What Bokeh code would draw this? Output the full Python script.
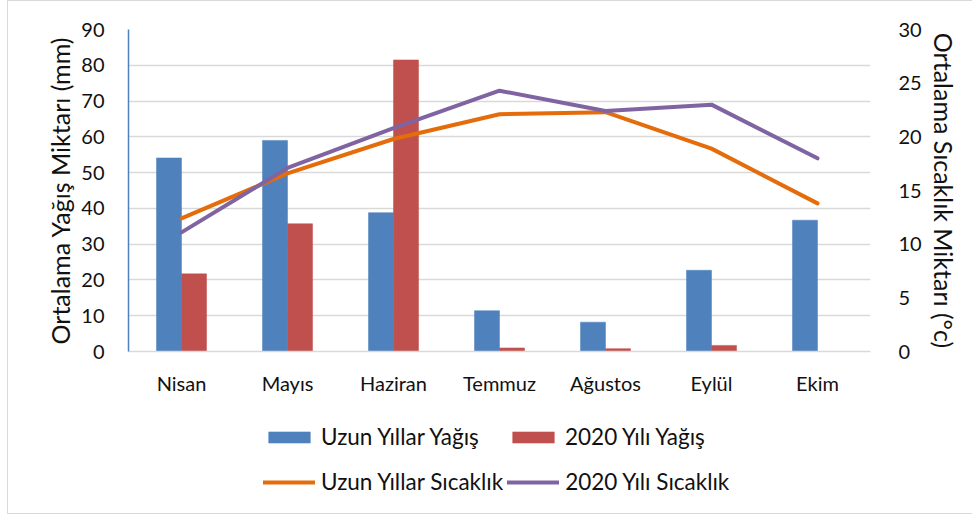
import math
from bokeh.plotting import figure
from bokeh.layouts import column
from bokeh.models import (ColumnDataSource, FactorRange, Range1d, LinearAxis,
                          SingleIntervalTicker, Legend, LegendItem)
from bokeh.transform import dodge
from bokeh.embed import file_html
from bokeh.resources import INLINE

months = ["Nisan", "Mayıs", "Haziran", "Temmuz", "Ağustos", "Eylül", "Ekim"]
rain_long = [54.1, 59.0, 38.8, 11.4, 8.2, 22.7, 36.7]
rain_2020 = [21.7, 35.7, 81.5, 1.0, 0.8, 1.7, math.nan]
temp_long = [12.4, 16.6, 19.8, 22.1, 22.3, 18.9, 13.8]
temp_2020 = [11.1, 17.1, 20.8, 24.3, 22.4, 23.0, 18.0]
series_names = ["Uzun Yıllar Yağış", "2020 Yılı Yağış",
                "Uzun Yıllar Sıcaklık", "2020 Yılı Sıcaklık"]
colors = ["#4F81BD", "#C0504D", "#E46C0A", "#8064A2"]

FONT = "Lato"
TXT = "#111111"

src = ColumnDataSource(dict(month=months, rl=rain_long, r20=rain_2020,
                            tl=temp_long, t20=temp_2020))

p = figure(x_range=FactorRange(*months, range_padding=0), y_range=Range1d(0, 90),
           frame_width=742, frame_height=322,
           min_border_left=120, min_border_right=102,
           min_border_top=28, min_border_bottom=50,
           output_backend="svg", toolbar_location=None)
p.extra_y_ranges = {"temp": Range1d(0, 30)}
p.outline_line_color = None
p.background_fill_color = "white"
p.border_fill_color = "white"

bw = 0.236


def draw_series(fig, x_range, y_name=None):
    rs = []
    rs.append(fig.vbar(x=dodge("month", -bw / 2, range=x_range), top="rl", width=bw,
                       source=src, fill_color=colors[0], line_color=colors[0],
                       line_width=0.5))
    rs.append(fig.vbar(x=dodge("month", bw / 2, range=x_range), top="r20", width=bw,
                       source=src, fill_color=colors[1], line_color=colors[1],
                       line_width=0.5))
    kw = {} if y_name is None else {"y_range_name": y_name}
    rs.append(fig.line(x="month", y="tl", source=src, line_color=colors[2],
                       line_width=4, line_cap="round", line_join="round", **kw))
    rs.append(fig.line(x="month", y="t20", source=src, line_color=colors[3],
                       line_width=4, line_cap="round", line_join="round", **kw))
    return rs


draw_series(p, p.x_range, "temp")

# grid
p.xgrid.grid_line_color = None
p.ygrid.grid_line_color = "#D9D9D9"
p.ygrid.grid_line_width = 1.5
p.ygrid.ticker = SingleIntervalTicker(interval=10)

# left axis
ya = p.yaxis[0]
ya.ticker = SingleIntervalTicker(interval=10)
ya.axis_label = "Ortalama Yağış Miktarı (mm)"
ya.axis_line_color = "#4F81BD"
ya.axis_line_width = 1.5
ya.major_tick_line_color = None
ya.minor_tick_line_color = None
ya.major_label_standoff = 18
ya.axis_label_standoff = 3

# right axis
ra = LinearAxis(y_range_name="temp", ticker=SingleIntervalTicker(interval=5),
                axis_label="Ortalama Sıcaklık Miktarı (°c)")
ra.axis_line_color = None
ra.major_tick_line_color = None
ra.minor_tick_line_color = None
ra.major_label_standoff = 22
ra.axis_label_standoff = 4
p.add_layout(ra, "right")

# bottom axis
xa = p.xaxis[0]
xa.axis_line_color = "#D9D9D9"
xa.axis_line_width = 1.5
xa.major_tick_line_color = None
xa.minor_tick_line_color = None
xa.major_label_standoff = 13

for ax in (ya, ra, xa):
    ax.major_label_text_font = FONT
    ax.major_label_text_font_size = "20px"
    ax.major_label_text_color = TXT
    ax.axis_label_text_font = FONT
    ax.axis_label_text_font_size = "25px"
    ax.axis_label_text_font_style = "normal"
    ax.axis_label_text_color = TXT

# legend strip below the chart: same series, drawn far outside its view window
lp = figure(width=964, height=112, x_range=FactorRange(*months, range_padding=0),
            y_range=Range1d(1000, 1001), x_axis_type=None, y_axis_type=None,
            min_border=0, output_backend="svg", toolbar_location=None)
lp.outline_line_color = None
lp.grid.grid_line_color = None
k1, k2, k3, k4 = draw_series(lp, lp.x_range)


def make_legend(items, y):
    lg = Legend(items=items, location=(135, y), orientation="horizontal",
                glyph_width=52, glyph_height=14, label_standoff=6, spacing=4,
                label_width=182, padding=0, margin=0,
                border_line_alpha=0, background_fill_alpha=0,
                label_text_font=FONT, label_text_font_size="22.5px",
                label_text_color=TXT)
    lp.add_layout(lg, "center")
    return lg


make_legend([LegendItem(label=series_names[0], renderers=[k1]),
             LegendItem(label=series_names[1], renderers=[k2])], 63)
make_legend([LegendItem(label=series_names[2], renderers=[k3]),
             LegendItem(label=series_names[3], renderers=[k4])], 18)

layout = column(p, lp, spacing=0)
layout.styles = {"margin-left": "7px",
                 "border-left": "1px solid #d9d9d9",
                 "border-top": "1px solid #d9d9d9",
                 "border-bottom": "1px solid #d9d9d9"}

open("out.html", "w").write(file_html(layout, INLINE))
